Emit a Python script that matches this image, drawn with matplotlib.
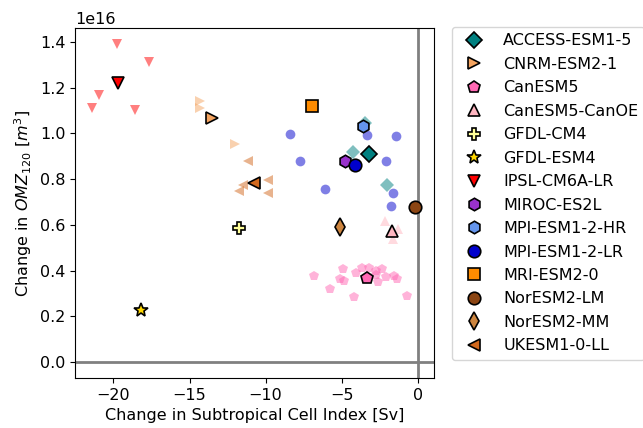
import matplotlib
matplotlib.use("Agg")
import matplotlib.pyplot as plt

# modelos: nombre, marcador, color
modelos = ["ACCESS-ESM1-5", "CNRM-ESM2-1", "CanESM5", "CanESM5-CanOE", "GFDL-CM4",
           "GFDL-ESM4", "IPSL-CM6A-LR", "MIROC-ES2L", "MPI-ESM1-2-HR", "MPI-ESM1-2-LR",
           "MRI-ESM2-0", "NorESM2-LM", "NorESM2-MM", "UKESM1-0-LL"]
marcadores = ["D", ">", "p", "^", "P", "*", "v", "h", "h", "o", "s", "o", "d", "<"]
colores = ["teal", "sandybrown", "hotpink", "lightpink", "#ffff99", "gold", "red",
           "darkorchid", "cornflowerblue", "mediumblue", "darkorange", "saddlebrown",
           "peru", "chocolate"]

# media del ensamble (Sv, 1e16 m3)
media_x = [-3.21, -13.49, -3.36, -1.68, -11.72, -18.21, -19.69, -4.79, -3.59, -4.09,
           -6.97, -0.15, -5.11, -10.75]
media_y = [0.911, 1.066, 0.368, 0.573, 0.584, 0.227, 1.220, 0.878, 1.031, 0.863,
           1.118, 0.678, 0.591, 0.785]

# miembros individuales
miembros_x = {
    "ACCESS-ESM1-5": [-4.28, -2.01, -3.48],
    "CNRM-ESM2-1": [-14.3, -14.3, -12.0],
    "CanESM5": [-6.82, -4.90, -4.07, -3.63, -3.21, -2.75, -2.36, -2.75, -2.10, -1.57,
                -1.36, -5.11, -4.83, -2.60, -5.77, -4.18, -0.68],
    "CanESM5-CanOE": [-2.16, -1.29, -1.62],
    "IPSL-CM6A-LR": [-19.74, -17.64, -20.96, -21.44, -18.56],
    "MPI-ESM1-2-LR": [-8.39, -7.74, -3.36, -1.46, -2.10, -6.10, -1.62, -1.77],
    "UKESM1-0-LL": [-11.13, -11.46, -11.72, -9.82, -9.82],
}
miembros_y = {
    "ACCESS-ESM1-5": [0.918, 0.773, 1.044],
    "CNRM-ESM2-1": [1.141, 1.112, 0.955],
    "CanESM5": [0.377, 0.405, 0.390, 0.409, 0.412, 0.399, 0.405, 0.380, 0.370, 0.376,
                0.362, 0.365, 0.354, 0.351, 0.319, 0.283, 0.290],
    "CanESM5-CanOE": [0.617, 0.580, 0.536],
    "IPSL-CM6A-LR": [1.392, 1.311, 1.169, 1.112, 1.100],
    "MPI-ESM1-2-LR": [0.999, 0.878, 0.991, 0.987, 0.879, 0.758, 0.737, 0.683],
    "UKESM1-0-LL": [0.879, 0.776, 0.748, 0.795, 0.737],
}

fig = plt.figure(figsize=(6.43, 4.28), dpi=100)
ax = fig.add_axes([0.117, 0.117, 0.558, 0.818])

for nombre, m, c in zip(modelos, marcadores, colores):
    if nombre in miembros_x:
        xs = miembros_x[nombre]
        ys = [v * 1e16 for v in miembros_y[nombre]]
        ax.plot(xs, ys, linestyle="none", marker=m, color=c, alpha=0.5,
                markersize=7, markeredgewidth=0)

ax.axhline(0, color="gray", linewidth=2, zorder=1)
ax.axvline(0, color="gray", linewidth=2, zorder=1)

for i, nombre in enumerate(modelos):
    ms = 9
    if marcadores[i] == "*":
        ms = 10
    if marcadores[i] == "D":
        ms = 8
    ax.plot(media_x[i], media_y[i] * 1e16, linestyle="none", marker=marcadores[i],
            markerfacecolor=colores[i], markeredgecolor="black", markeredgewidth=1.2,
            markersize=ms, label=nombre, zorder=3)

ax.set_xlabel("Change in Subtropical Cell Index [Sv]", fontsize=11.5)
ax.set_ylabel("Change in $OMZ_{120}$ [$m^3$]", fontsize=11.5)
ax.tick_params(labelsize=11.5)
ax.yaxis.get_offset_text().set_fontsize(11.5)

fig.legend(loc="upper left", bbox_to_anchor=(0.703, 0.937), fontsize=11.5,
           labelspacing=0.53, handletextpad=0.8, borderaxespad=0)

fig.savefig("out.png", dpi=100)
